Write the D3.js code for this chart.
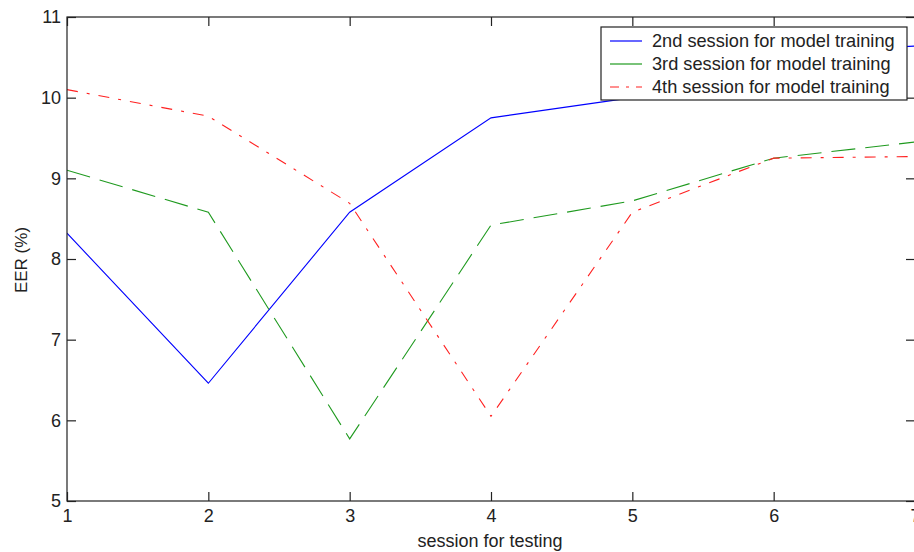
<!DOCTYPE html>
<html><head><meta charset="utf-8">
<script src="https://cdn.jsdelivr.net/npm/d3@7"></script>
<style>body{margin:0;background:#fff}svg{display:block}text{font-family:"Liberation Sans",Arial,sans-serif;fill:#222}</style>
</head><body><svg id="c" width="914" height="552"></svg>
<script>
const sessions = [1, 2, 3, 4, 5, 6, 7];
const train2 = [8.32, 6.46, 8.58, 9.75, 10.0, 10.55, 10.64];
const train3 = [9.10, 8.58, 5.77, 8.42, 8.72, 9.25, 9.45];
const train4 = [10.10, 9.77, 8.69, 6.05, 8.58, 9.25, 9.27];
const seriesNames = ["2nd session for model training", "3rd session for model training", "4th session for model training"];
const xTicks = [1, 2, 3, 4, 5, 6, 7];
const yTicks = [5, 6, 7, 8, 9, 10, 11];

const L = 67, R = 915, T = 17, B = 501;
const svg = d3.select("#c");
const x = d3.scaleLinear().domain([1, 7]).range([L, R]);
const y = d3.scaleLinear().domain([5, 11]).range([B, T]);

const styles = [
  {color: "#0000ff", dash: null},
  {color: "#1f9a1f", dash: "24,10"},
  {color: "#ff2020", dash: "11,9,3,9"}
];
const data = [train2, train3, train4];

svg.append("clipPath").attr("id", "clip").append("rect")
  .attr("x", L).attr("y", T).attr("width", R - L).attr("height", B - T);

const line = d3.line().x((d, i) => x(sessions[i])).y(d => y(d));
const g = svg.append("g").attr("clip-path", "url(#clip)");
data.forEach((vals, k) => {
  g.append("path").attr("d", line(vals)).attr("fill", "none")
    .attr("stroke", styles[k].color).attr("stroke-width", 1.1)
    .attr("stroke-dasharray", styles[k].dash);
});

const ax = svg.append("g").attr("stroke", "#222").attr("stroke-width", 1.2).attr("fill", "none");
ax.append("rect").attr("x", L).attr("y", T).attr("width", R - L).attr("height", B - T);

const tl = 9;
const xa = svg.append("g").attr("transform", `translate(0,${B})`)
  .call(d3.axisBottom(x).tickValues(xTicks).tickSize(-tl).tickPadding(8).tickFormat(d3.format("d")));
const xt = svg.append("g").attr("transform", `translate(0,${T})`)
  .call(d3.axisTop(x).tickValues(xTicks).tickSize(-tl).tickFormat(""));
const ya = svg.append("g").attr("transform", `translate(${L},0)`)
  .call(d3.axisLeft(y).tickValues(yTicks).tickSize(-tl).tickPadding(6).tickFormat(d3.format("d")));
const yr = svg.append("g").attr("transform", `translate(${R},0)`)
  .call(d3.axisRight(y).tickValues(yTicks).tickSize(-tl).tickFormat(""));
[xa, xt, ya, yr].forEach(a => {
  a.select(".domain").remove();
  a.selectAll(".tick line").attr("stroke", "#222").attr("stroke-width", 1.2);
  a.selectAll(".tick text").attr("font-size", 18).attr("fill", "#222")
    .style("font-family", '"Liberation Sans",Arial,sans-serif');
});

svg.append("text").attr("x", (L + R) / 2 - 1).attr("y", 547).attr("text-anchor", "middle")
  .attr("font-size", 18).text("session for testing");
svg.append("text").attr("transform", "translate(27,260) rotate(-90)").attr("text-anchor", "middle")
  .attr("font-size", 17).text("EER (%)");

const lg = svg.append("g");
lg.append("rect").attr("x", 601).attr("y", 27).attr("width", 306).attr("height", 73)
  .attr("fill", "#fff").attr("stroke", "#222").attr("stroke-width", 1.2);
const rows = [41, 64, 87];
seriesNames.forEach((n, k) => {
  lg.append("line").attr("x1", 610).attr("x2", 642).attr("y1", rows[k]).attr("y2", rows[k])
    .attr("stroke", styles[k].color).attr("stroke-width", 1.2)
    .attr("stroke-dasharray", k === 2 ? "9,7,3,7" : null);
  lg.append("text").attr("x", 652).attr("y", rows[k] + 6).attr("font-size", 18.2).text(n);
});
</script></body></html>
